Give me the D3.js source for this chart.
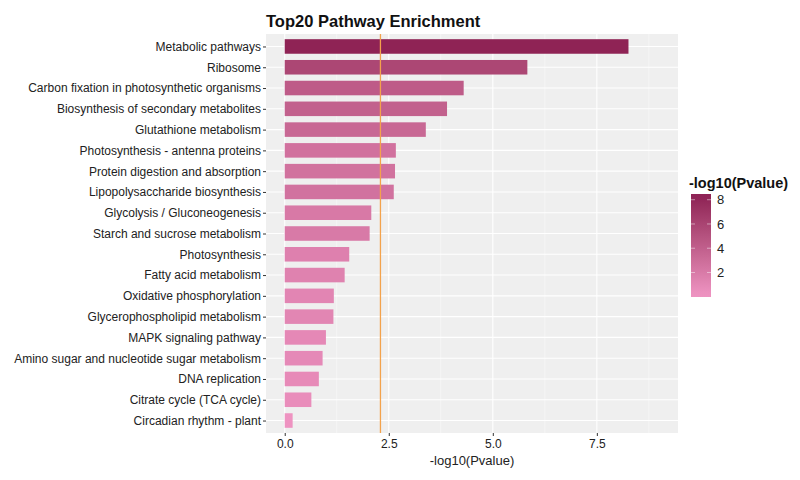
<!DOCTYPE html>
<html>
<head>
<meta charset="utf-8">
<script src="https://cdn.jsdelivr.net/npm/d3@7"></script>
<style>
  html, body { margin: 0; padding: 0; background: #ffffff; }
  svg { display: block; font-family: "Liberation Sans", Arial, sans-serif; }
</style>
</head>
<body>
<svg id="chart" width="800" height="480"></svg>
<script>
const pathways = [
  "Metabolic pathways",
  "Ribosome",
  "Carbon fixation in photosynthetic organisms",
  "Biosynthesis of secondary metabolites",
  "Glutathione metabolism",
  "Photosynthesis - antenna proteins",
  "Protein digestion and absorption",
  "Lipopolysaccharide biosynthesis",
  "Glycolysis / Gluconeogenesis",
  "Starch and sucrose metabolism",
  "Photosynthesis",
  "Fatty acid metabolism",
  "Oxidative phosphorylation",
  "Glycerophospholipid metabolism",
  "MAPK signaling pathway",
  "Amino sugar and nucleotide sugar metabolism",
  "DNA replication",
  "Citrate cycle (TCA cycle)",
  "Circadian rhythm - plant"
];
const negLogP = [8.26, 5.83, 4.30, 3.90, 3.39, 2.67, 2.65, 2.62, 2.08, 2.04,
                 1.55, 1.44, 1.18, 1.17, 0.99, 0.91, 0.82, 0.64, 0.19];
const xTicks = [0, 2.5, 5, 7.5];
const xMinorTicks = [1.25, 3.75, 6.25, 8.75];
const legendTicks = [2, 4, 6, 8];
const threshold = 2.3;
const titleText = "Top20 Pathway Enrichment";
const xTitle = "-log10(Pvalue)";
const legendTitle = "-log10(Pvalue)";

const svg = d3.select("#chart");
const panel = { left: 266, right: 678, top: 34, bottom: 433 };

const x = d3.scaleLinear().domain([-0.45, 9.45]).range([panel.left, panel.right]);
const n = pathways.length;
// discrete positions: top item = position n, bottom = 1; ggplot expansion 0.6
const yPos = d3.scaleLinear().domain([0.4, n + 0.6]).range([panel.bottom, panel.top]);
const posOf = i => n - i;
const barHalf = (yPos(0) - yPos(0.7)) / 2;

const vMin = d3.min(negLogP), vMax = d3.max(negLogP);
const color = d3.scaleLinear().domain([vMin, vMax])
  .range(["#ee93c1", "#8f2355"]).interpolate(d3.interpolateLab).clamp(true);

// panel background
svg.append("rect").attr("x", panel.left).attr("y", panel.top)
  .attr("width", panel.right - panel.left).attr("height", panel.bottom - panel.top)
  .attr("fill", "#efefef");

// grid lines
svg.append("g").selectAll("line").data(xMinorTicks).join("line")
  .attr("x1", d => x(d)).attr("x2", d => x(d))
  .attr("y1", panel.top).attr("y2", panel.bottom)
  .attr("stroke", "#fafafa").attr("stroke-width", 0.6);
svg.append("g").selectAll("line").data(xTicks).join("line")
  .attr("x1", d => x(d)).attr("x2", d => x(d))
  .attr("y1", panel.top).attr("y2", panel.bottom)
  .attr("stroke", "#ffffff").attr("stroke-width", 1.1);
svg.append("g").selectAll("line").data(pathways).join("line")
  .attr("x1", panel.left).attr("x2", panel.right)
  .attr("y1", (d, i) => yPos(posOf(i))).attr("y2", (d, i) => yPos(posOf(i)))
  .attr("stroke", "#ffffff").attr("stroke-width", 1.1);

// bars
svg.append("g").selectAll("rect").data(negLogP).join("rect")
  .attr("x", x(0))
  .attr("y", (d, i) => yPos(posOf(i)) - barHalf)
  .attr("width", d => x(d) - x(0))
  .attr("height", barHalf * 2)
  .attr("fill", d => color(d));

// threshold line
svg.append("line")
  .attr("x1", x(threshold)).attr("x2", x(threshold))
  .attr("y1", panel.top).attr("y2", panel.bottom)
  .attr("stroke", "#f3a24c").attr("stroke-width", 1.3);

// axes
const xAxis = d3.axisBottom(x).tickValues(xTicks).tickFormat(d3.format(".1f"))
  .tickSize(3).tickPadding(3);
const gx = svg.append("g").attr("transform", `translate(0,${panel.bottom})`).call(xAxis);
gx.select(".domain").remove();
gx.selectAll(".tick line").attr("stroke", "#333");
gx.selectAll(".tick text").attr("fill", "#222").style("font-size", "12px")
  .style("font-family", "'Liberation Sans', Arial, sans-serif");

const yBand = d3.scalePoint().domain(pathways).range([yPos(n), yPos(1)]);
const yAxis = d3.axisLeft(yBand).tickSize(3).tickPadding(2);
const gy = svg.append("g").attr("transform", `translate(${panel.left},0)`).call(yAxis);
gy.select(".domain").remove();
gy.selectAll(".tick line").attr("stroke", "#333");
gy.selectAll(".tick text").attr("fill", "#222").style("font-size", "12px")
  .style("font-family", "'Liberation Sans', Arial, sans-serif");

// title
svg.append("text").attr("x", panel.left).attr("y", 27)
  .attr("font-size", "16.5px").attr("font-weight", "bold").attr("fill", "#111")
  .text(titleText);

// x axis title
svg.append("text").attr("x", (panel.left + panel.right) / 2).attr("y", 465)
  .attr("text-anchor", "middle").attr("font-size", "13px").attr("fill", "#222")
  .text(xTitle);

// legend
const leg = { x: 691, w: 20, top: 194, bottom: 297 };
const inset = (leg.bottom - leg.top) * 0.025;
const ly = d3.scaleLinear().domain([vMin, vMax]).range([leg.bottom - inset, leg.top + inset]);

svg.append("text").attr("x", 689).attr("y", 188)
  .attr("font-size", "14.5px").attr("font-weight", "bold").attr("fill", "#111")
  .text(legendTitle);

const defs = svg.append("defs");
const grad = defs.append("linearGradient").attr("id", "lg")
  .attr("x1", 0).attr("y1", 1).attr("x2", 0).attr("y2", 0);
const stops = d3.range(0, 1.0001, 0.05);
grad.selectAll("stop").data(stops).join("stop")
  .attr("offset", d => d)
  .attr("stop-color", d => color(ly.invert(leg.bottom - d * (leg.bottom - leg.top))));
svg.append("rect").attr("x", leg.x).attr("y", leg.top)
  .attr("width", leg.w).attr("height", leg.bottom - leg.top)
  .attr("fill", "url(#lg)");

const lt = svg.append("g");
lt.selectAll("line.l").data(legendTicks).join("line").attr("class", "l")
  .attr("x1", leg.x).attr("x2", leg.x + 4)
  .attr("y1", d => ly(d)).attr("y2", d => ly(d))
  .attr("stroke", "#ffffff").attr("stroke-opacity", 0.6).attr("stroke-width", 0.8);
lt.selectAll("line.r").data(legendTicks).join("line").attr("class", "r")
  .attr("x1", leg.x + leg.w - 4).attr("x2", leg.x + leg.w)
  .attr("y1", d => ly(d)).attr("y2", d => ly(d))
  .attr("stroke", "#ffffff").attr("stroke-opacity", 0.6).attr("stroke-width", 0.8);
lt.selectAll("text").data(legendTicks).join("text")
  .attr("x", 717).attr("y", d => ly(d)).attr("dy", "0.36em")
  .attr("font-size", "13px").attr("fill", "#222")
  .text(d => d);
</script>
</body>
</html>
